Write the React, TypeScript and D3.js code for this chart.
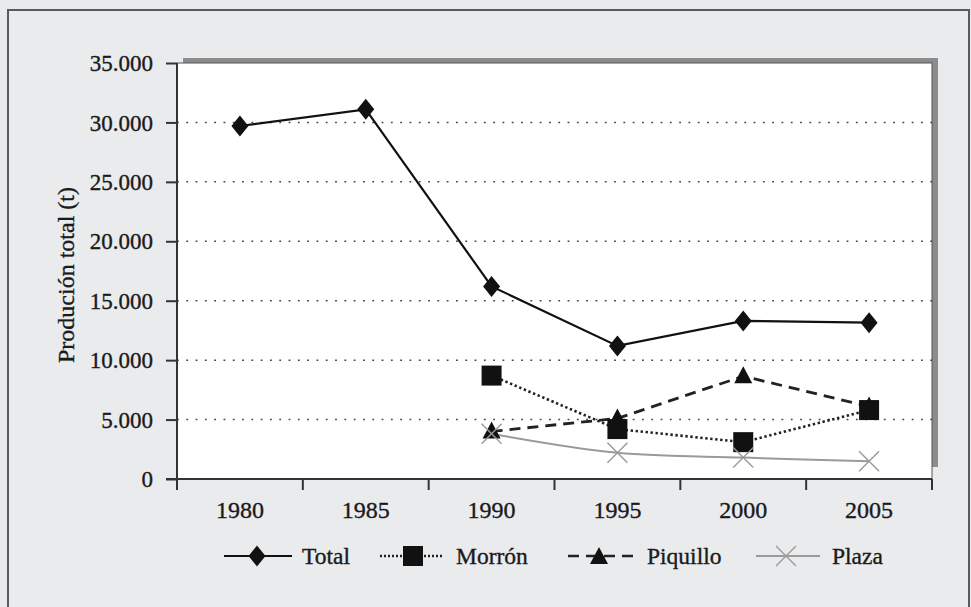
import React, { useEffect, useRef } from 'react';
import * as d3 from 'd3';

const years = ['1980', '1985', '1990', '1995', '2000', '2005'];
const total: (number | null)[] = [29700, 31100, 16200, 11200, 13300, 13150];
const morron: (number | null)[] = [null, null, 8700, 4200, 3100, 5800];
const piquillo: (number | null)[] = [null, null, 4000, 5100, 8650, 6100];
const plaza: (number | null)[] = [null, null, 3800, 2200, 1800, 1500];
const yTicks = [0, 5000, 10000, 15000, 20000, 25000, 30000, 35000];
const legendLabels = ['Total', 'Morrón', 'Piquillo', 'Plaza'];

const FONT = '"Liberation Serif", "Times New Roman", serif';
const INK = '#1a1a1a';

const App: React.FC = () => {
  const svgRef = useRef<SVGSVGElement>(null);

  useEffect(() => {
    if (!svgRef.current) return;
    const svg = d3.select(svgRef.current);
    svg.selectAll('*').remove();

    const W = 971;
    const H = 607;
    const left = 177, right = 932, top = 63, bottom = 479;

    const es = d3.formatLocale({ decimal: ',', thousands: '.', grouping: [3], currency: ['', ''] });
    const fmt = es.format(',d');

    // page frame
    svg.append('rect').attr('width', W).attr('height', H).attr('fill', '#e9eaec');
    svg.append('rect')
      .attr('x', 8).attr('y', 10).attr('width', 961).attr('height', 620)
      .attr('fill', '#eaebed').attr('stroke', '#5a5a5a').attr('stroke-width', 2);

    const x = d3.scaleBand<string>().domain(years).range([left, right]);
    const y = d3.scaleLinear().domain([0, 35000]).range([bottom, top]);
    const cx = (i: number) => (x(years[i]) as number) + x.bandwidth() / 2;

    // plot area with grey 3d edge
    svg.append('rect')
      .attr('x', left + 6).attr('y', top - 5)
      .attr('width', right - left).attr('height', bottom - top - 7)
      .attr('fill', '#8c8c8c');
    svg.append('rect')
      .attr('x', left).attr('y', top)
      .attr('width', right - left).attr('height', bottom - top)
      .attr('fill', '#ffffff');
    svg.append('path')
      .attr('d', `M${left},${top}H${right}V${bottom}`)
      .attr('fill', 'none').attr('stroke', '#555').attr('stroke-width', 1);

    // gridlines
    svg.append('g').selectAll('line')
      .data(yTicks.filter(t => t > 0 && t < 35000))
      .enter().append('line')
      .attr('x1', left).attr('x2', right)
      .attr('y1', d => y(d)).attr('y2', d => y(d))
      .attr('stroke', '#444').attr('stroke-width', 1.5)
      .attr('stroke-dasharray', '1.8,7.5');

    const textStyle = (sel: any, size: number) =>
      sel.attr('font-family', FONT).attr('font-size', size).attr('fill', INK)
        .attr('stroke', INK).attr('stroke-width', 0.35);

    // y axis
    const yAxis = svg.append('g')
      .attr('transform', `translate(${left},0)`)
      .call(d3.axisLeft(y).tickValues(yTicks).tickFormat(d => fmt(d as number)).tickSize(11).tickPadding(13));
    yAxis.select('.domain').attr('stroke', '#333').attr('stroke-width', 2).attr('d', `M0,${top}V${bottom}`);
    yAxis.selectAll('.tick line').attr('stroke', '#333').attr('stroke-width', 2);
    textStyle(yAxis.selectAll('.tick text'), 23).attr('dy', '0.33em');

    // x axis
    const xg = svg.append('g');
    xg.append('line')
      .attr('x1', left - 11).attr('x2', right)
      .attr('y1', bottom).attr('y2', bottom)
      .attr('stroke', '#333').attr('stroke-width', 2);
    const bounds = years.map(yr => x(yr) as number).concat([right]);
    xg.selectAll('.xt').data(bounds).enter().append('line')
      .attr('x1', d => d).attr('x2', d => d)
      .attr('y1', bottom).attr('y2', bottom + 11)
      .attr('stroke', '#333').attr('stroke-width', 2);
    textStyle(
      xg.selectAll('.xl').data(years).enter().append('text')
        .attr('x', (d, i) => cx(i)).attr('y', bottom + 39)
        .attr('text-anchor', 'middle')
        .text(d => d),
      24);

    // y label
    textStyle(
      svg.append('text')
        .attr('transform', `translate(74,${(top + bottom) / 2 + 4}) rotate(-90)`)
        .attr('text-anchor', 'middle')
        .text('Produción total (t)'),
      24);

    const pts = (vals: (number | null)[]) =>
      vals.map((v, i) => ({ i, v })).filter(p => p.v !== null) as { i: number; v: number }[];

    const line = d3.line<{ i: number; v: number }>().x(d => cx(d.i)).y(d => y(d.v));
    const smooth = d3.line<{ i: number; v: number }>().x(d => cx(d.i)).y(d => y(d.v)).curve(d3.curveCatmullRom.alpha(0.5));

    const lines = svg.append('g').attr('fill', 'none');
    lines.append('path').attr('d', line(pts(total)))
      .attr('stroke', '#111').attr('stroke-width', 2.2);
    lines.append('path').attr('d', line(pts(morron)))
      .attr('stroke', '#222').attr('stroke-width', 2.6).attr('stroke-dasharray', '2.4,2.6');
    lines.append('path').attr('d', line(pts(piquillo)))
      .attr('stroke', '#222').attr('stroke-width', 2.8).attr('stroke-dasharray', '11,7');
    lines.append('path').attr('d', smooth(pts(plaza)))
      .attr('stroke', '#9a9a9a').attr('stroke-width', 2);

    const diamond = (px: number, py: number) => `M${px},${py - 10.5}L${px + 8.5},${py}L${px},${py + 10.5}L${px - 8.5},${py}Z`;
    const square = (px: number, py: number) => `M${px - 10},${py - 10}h20v20h-20Z`;
    const tri = (px: number, py: number) => `M${px},${py - 10}L${px + 9},${py + 7}L${px - 9},${py + 7}Z`;
    const cross = (px: number, py: number) => `M${px - 10},${py - 10}L${px + 10},${py + 10}M${px + 10},${py - 10}L${px - 10},${py + 10}`;

    const marks = svg.append('g');
    pts(piquillo).forEach(p => marks.append('path').attr('d', tri(cx(p.i), y(p.v))).attr('fill', '#111'));
    pts(morron).forEach(p => marks.append('path').attr('d', square(cx(p.i), y(p.v))).attr('fill', '#111'));
    pts(total).forEach(p => marks.append('path').attr('d', diamond(cx(p.i), y(p.v))).attr('fill', '#111'));
    pts(plaza).forEach(p => marks.append('path').attr('d', cross(cx(p.i), y(p.v)))
      .attr('stroke', '#9a9a9a').attr('stroke-width', 1.4).attr('fill', 'none'));

    // legend
    const ly = 556;
    const lg = svg.append('g');
    const items = [
      { x0: 224, x1: 292, m: 257, tx: 302 },
      { x0: 380, x1: 444, m: 413, tx: 456 },
      { x0: 568, x1: 640, m: 599, tx: 647 },
      { x0: 756, x1: 820, m: 786, tx: 832 },
    ];
    // total
    lg.append('line').attr('x1', items[0].x0).attr('x2', items[0].x1).attr('y1', ly).attr('y2', ly)
      .attr('stroke', '#111').attr('stroke-width', 2.2);
    lg.append('path').attr('d', diamond(items[0].m, ly)).attr('fill', '#111');
    // morron
    lg.append('line').attr('x1', items[1].x0).attr('x2', items[1].x1).attr('y1', ly).attr('y2', ly)
      .attr('stroke', '#222').attr('stroke-width', 2.4).attr('stroke-dasharray', '2,2');
    lg.append('path').attr('d', square(items[1].m, ly)).attr('fill', '#111');
    // piquillo
    lg.append('line').attr('x1', items[2].x0).attr('x2', items[2].x1).attr('y1', ly).attr('y2', ly)
      .attr('stroke', '#222').attr('stroke-width', 2.6).attr('stroke-dasharray', '11,7');
    lg.append('path').attr('d', tri(items[2].m, ly + 1)).attr('fill', '#111');
    // plaza
    lg.append('line').attr('x1', items[3].x0).attr('x2', items[3].x1).attr('y1', ly).attr('y2', ly)
      .attr('stroke', '#9a9a9a').attr('stroke-width', 2);
    lg.append('path').attr('d', cross(items[3].m, ly)).attr('stroke', '#9a9a9a').attr('stroke-width', 1.4);

    textStyle(
      lg.selectAll('text').data(legendLabels).enter().append('text')
        .attr('x', (d, i) => items[i].tx).attr('y', ly + 8)
        .text(d => d),
      23.5);
  }, []);

  return (
    <svg
      ref={svgRef}
      width={971}
      height={607}
      style={{ position: 'absolute', left: 0, top: 0, display: 'block' }}
    />
  );
};

export default App;
